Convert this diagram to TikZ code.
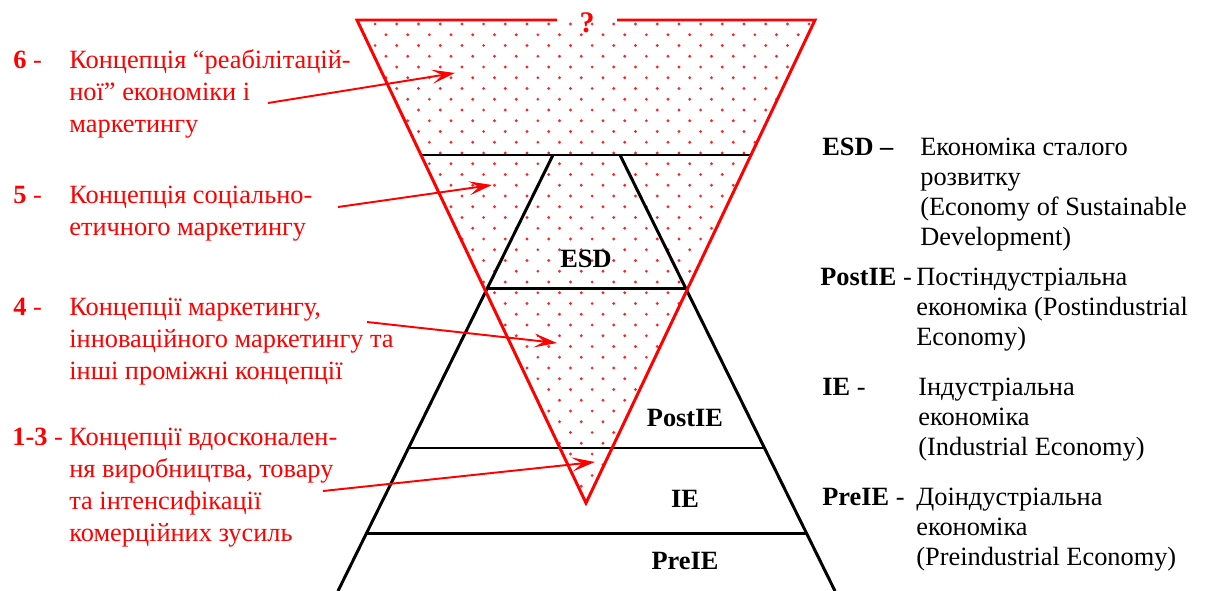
\documentclass[tikz,border=0pt]{standalone}
\usepackage{fontspec}
\setmainfont{Liberation Serif}
\usepackage{xcolor}
\usetikzlibrary{arrows.meta,calc}
\definecolor{ecoRed}{RGB}{255,0,0}
\definecolor{ecoDot}{RGB}{250,40,40}

\tikzset{
  conceptbox/.style={anchor=north west,inner sep=0pt,align=left,text=ecoRed,font=\fontsize{15}{18.2}\selectfont},
  conceptnum/.style={anchor=base west,inner sep=0pt,text=ecoRed,font=\fontsize{15}{18.2}\selectfont},
  legendkey/.style={anchor=base west,inner sep=0pt,font=\fontsize{15}{17.1}\selectfont},
  legendbox/.style={anchor=north west,inner sep=0pt,align=left,font=\fontsize{15}{17.1}\selectfont},
  tierlabel/.style={anchor=base,inner sep=0pt,font=\fontsize{15}{18}\selectfont\bfseries},
  tierline/.style={draw=black,line width=1.7pt},
  funnel/.style={draw=ecoRed,line width=1.7pt},
  pointer/.style={draw=ecoRed,line width=1.1pt,-{Stealth[length=4.6mm,width=2.8mm,inset=2mm]}},
}

\begin{document}
\begin{tikzpicture}[x=0.2mm,y=-0.2mm]
    \useasboundingbox (0,0) rectangle (1205,591);

    % Red funnel (inverted triangle) and black pyramid corners
    \coordinate (triL) at (357,20);
    \coordinate (triR) at (815,20);
    \coordinate (triB) at (586,503);
    \coordinate (gapL) at (557,20);
    \coordinate (gapR) at (617,20);
    \coordinate (pyrTL) at (553,155);
    \coordinate (pyrTR) at (620,155);
    \coordinate (pyrBL) at (338,591);
    \coordinate (pyrBR) at (835,591);

    % Dotted fill of the funnel
    \begin{scope}
        \clip (triL) -- (triR) -- (triB) -- cycle;
        \foreach \m in {0,...,44} {
            \pgfmathsetmacro{\xo}{mod(\m,2)*10.85}
            \foreach \k in {-8,...,14}
                \fill[ecoDot] (527+\xo+21.7*\k,24+10.75*\m) circle (0.32mm);
        }
    \end{scope}

    % Pyramid of economies
    \draw[tierline] (pyrBL) -- (pyrTL);
    \draw[tierline] (pyrTR) -- (pyrBR);
    \draw[tierline] ($(triL)!0.2795!(triB)$) -- ($(triR)!0.2795!(triB)$);
    \draw[tierline] ($(pyrTL)!0.3073!(pyrBL)$) -- ($(pyrTR)!0.3073!(pyrBR)$);
    \draw[tierline] ($(pyrTL)!0.672!(pyrBL)$) -- ($(pyrTR)!0.672!(pyrBR)$);
    \draw[tierline] ($(pyrTL)!0.867!(pyrBL)$) -- ($(pyrTR)!0.867!(pyrBR)$);

    % Funnel outline, open at the question mark
    \draw[funnel] (gapL) -- (triL) -- (triB) -- (triR) -- (gapR);
    \node[tierlabel,text=ecoRed,font=\fontsize{17}{18}\selectfont\bfseries] (q) at (587,32) {?};

    % Tier labels
    \node[tierlabel] (lESD) at (586,267) {ESD};
    \node[tierlabel] (lPostIE) at (685,426) {PostIE};
    \node[tierlabel] (lIE) at (685,507) {IE};
    \node[tierlabel] (lPreIE) at (685,569) {PreIE};

    % Marketing concepts (left side)
    \node[conceptnum] (n6) at (13,68) {\textbf{6} -};
    \node[conceptbox] (c6) at (69,45.6) {\strut Концепція “реабілітацій-\\ної” економіки і\\маркетингу};
    \node[conceptnum] (n5) at (13,203) {\textbf{5} -};
    \node[conceptbox] (c5) at (69,180.6) {\strut Концепція соціально-\\етичного маркетингу};
    \node[conceptnum] (n4) at (13,315) {\textbf{4} -};
    \node[conceptbox] (c4) at (69,292.6) {\strut Концепції маркетингу,\\інноваційного маркетингу та\\інші проміжні концепції};
    \node[conceptnum] (n13) at (12,445) {\textbf{1-3} -};
    \node[conceptbox] (c13) at (69,422.6) {\strut Концепції вдосконален-\\ня виробництва, товару\\та інтенсифікації\\комерційних зусиль};

    % Pointers into the funnel
    \coordinate (a6s) at (268,103);  \coordinate (a6e) at (455,73);
    \coordinate (a5s) at (338,207);  \coordinate (a5e) at (492,185);
    \coordinate (a4s) at (367,322);  \coordinate (a4e) at (557,343);
    \coordinate (a13s) at (323,491); \coordinate (a13e) at (595,462);
    \draw[pointer] (a6s) -- (a6e);
    \draw[pointer] (a5s) -- (a5e);
    \draw[pointer] (a4s) -- (a4e);
    \draw[pointer] (a13s) -- (a13e);

    % Legend (right side)
    \node[legendkey] (kESD) at (822,155) {\textbf{ESD –}};
    \node[legendbox] (tESD) at (920,134) {\strut Економіка сталого\\розвитку\\(Economy of Sustainable\\Development)};
    \node[legendkey] (kPostIE) at (820,285) {\textbf{PostIE} -};
    \node[legendbox] (tPostIE) at (916,264) {\strut Постіндустріальна\\економіка (Postindustrial\\Economy)};
    \node[legendkey] (kIE) at (822,395) {\textbf{IE} -};
    \node[legendbox] (tIE) at (918,374) {\strut Індустріальна\\економіка\\(Industrial Economy)};
    \node[legendkey] (kPreIE) at (822,505) {\textbf{PreIE} -};
    \node[legendbox] (tPreIE) at (916,484) {\strut Доіндустріальна\\економіка\\(Preindustrial Economy)};
\end{tikzpicture}
\end{document}
